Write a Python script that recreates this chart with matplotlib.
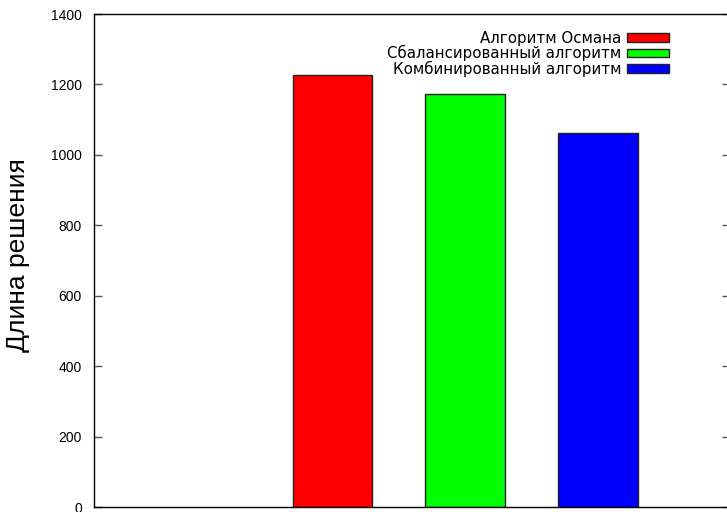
import matplotlib
matplotlib.use("Agg")
import matplotlib.pyplot as plt

labels = ["Алгоритм Османа", "Сбалансированный алгоритм", "Комбинированный алгоритм"]
values = [1226, 1172, 1061]
colors = ["#ff0000", "#00ff00", "#0000ff"]
positions = [1, 2, 3]
yticks = [0, 200, 400, 600, 800, 1000, 1200, 1400]

fig = plt.figure(figsize=(7.27, 5.12), dpi=100)
W, H = 727, 512
left, right, top, bottom = 94.3, 729.5, 14.0, 507.3
ax = fig.add_axes([left / W, 1 - bottom / H, (right - left) / W, (bottom - top) / H])

for p, v, c, lab in zip(positions, values, colors, labels):
    ax.bar(p, v, width=0.6, color=c, edgecolor="#222222", linewidth=1.0, label=lab)

ax.set_xlim(-0.798, 3.993)
ax.set_ylim(0, 1400)
ax.set_yticks(yticks)
ax.set_xticks([])
ax.tick_params(axis="y", direction="in", length=6, width=1, color="#555555",
               right=True, labelsize=10, pad=9)
for lab in ax.get_yticklabels():
    lab.set_family("Liberation Sans")
for s in ax.spines.values():
    s.set_linewidth(1.0)
    s.set_color("black")

ax.set_ylabel("Длина решения", fontsize=19, family="Liberation Sans")
ax.yaxis.set_label_coords((30 - left) / (right - left), (bottom - 255.5) / (bottom - top))

leg = ax.legend(loc="upper right",
                bbox_to_anchor=((668.5 - left) / (right - left), (bottom - 31.0) / (bottom - top)),
                frameon=False, markerfirst=False, fontsize=10.8, handlelength=2.76, handleheight=0.53,
                handletextpad=0.4, labelspacing=-0.06, borderaxespad=0, borderpad=0)
for t in leg.get_texts():
    t.set_family("DejaVu Sans")

fig.savefig("out.png", dpi=100)
